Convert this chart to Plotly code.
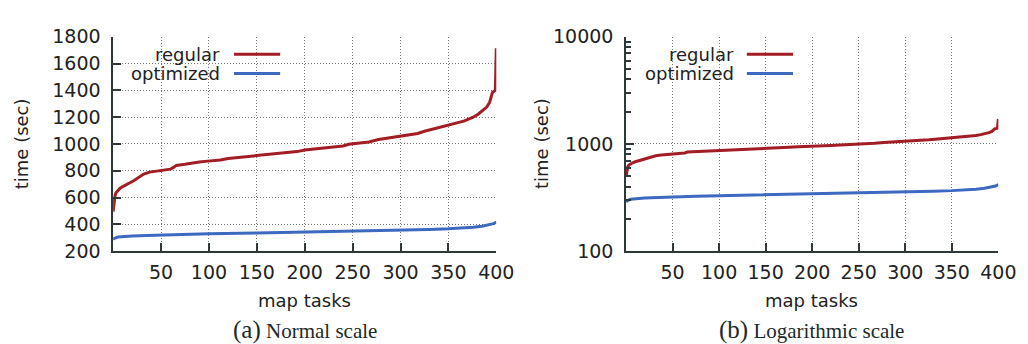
import plotly.graph_objects as go

# ---- data ----
regular_x = [0, 1, 2, 3, 5, 7, 10, 14, 18, 21, 25, 28, 32, 38, 44, 50, 55, 60, 63, 66,
             75, 82, 90, 96, 105, 112, 120, 132, 144, 155, 165, 175, 185, 192, 200,
             210, 220, 230, 240, 246, 255, 267, 277, 287, 297, 305, 312, 318, 325,
             332, 340, 349, 358, 366, 371, 376, 381, 386, 390, 393, 396, 399, 400]
regular_y = [495, 560, 615, 635, 655, 668, 682, 700, 712, 724, 745, 760, 775, 790, 797,
             800, 805, 812, 825, 840, 848, 858, 865, 870, 873, 880, 892, 900, 908, 915,
             922, 932, 940, 943, 955, 962, 970, 978, 985, 998, 1005, 1015, 1033, 1044,
             1050, 1060, 1068, 1078, 1095, 1108, 1122, 1139, 1155, 1170, 1185, 1200,
             1222, 1248, 1275, 1310, 1385, 1400, 1715]

optimized_x = [0, 2, 5, 10, 20, 35, 50, 75, 100, 150, 200, 250, 300, 330, 350, 365,
               376, 385, 392, 397, 400]
optimized_y = [288, 298, 305, 309, 313, 317, 321, 325, 329, 335, 341, 348, 356, 362,
               367, 372, 378, 386, 395, 405, 418]

x_ticks = [50, 100, 150, 200, 250, 300, 350, 400]
series_names = ["regular", "optimized"]
captions = [("(a)", "Normal scale"), ("(b)", "Logarithmic scale")]

RED = "#a21d24"
BLUE = "#3d69c1"
AX = "#2f3838"
TXT = "#222222"
GRID = "#777777"
FONT = "DejaVu Sans"
TICKSIZE = 19
LBLSIZE = 18
W, H = 1028, 344


def px(x):
    return x / W


def py(y):
    return 1 - y / H


fig = go.Figure()
for xa, ya in (("x", "y"), ("x2", "y2")):
    fig.add_trace(go.Scatter(x=regular_x, y=regular_y, mode="lines", name=series_names[0],
                             line=dict(color=RED, width=3), xaxis=xa, yaxis=ya,
                             showlegend=False))
    fig.add_trace(go.Scatter(x=optimized_x, y=optimized_y, mode="lines", name=series_names[1],
                             line=dict(color=BLUE, width=3), xaxis=xa, yaxis=ya,
                             showlegend=False))

common_x = dict(range=[0, 400], tickmode="array", tickvals=x_ticks, ticks="inside",
                ticklen=8, tickwidth=1.5, tickcolor=AX, showline=True, linecolor=AX,
                linewidth=1.5, showgrid=True, gridcolor=GRID, griddash="1px,2px", gridwidth=1,
                zeroline=False, tickfont=dict(family=FONT, size=TICKSIZE, color=TXT),
                ticklabelstandoff=3)
common_y = dict(ticks="inside", ticklen=8, tickwidth=1.5, tickcolor=AX, showline=True,
                linecolor=AX, linewidth=1.5, showgrid=True, gridcolor=GRID,
                griddash="1px,2px", gridwidth=1, zeroline=False,
                tickfont=dict(family=FONT, size=TICKSIZE, color=TXT), ticklabelstandoff=7)

ytop, ybot = 19, 248
fig.update_layout(
    width=W, height=H, margin=dict(l=0, r=0, t=0, b=0),
    paper_bgcolor="white", plot_bgcolor="white",
    xaxis=dict(domain=[px(107), px(497)], anchor="y", **common_x),
    xaxis2=dict(domain=[px(629), px(1008)], anchor="y2", **common_x),
    yaxis=dict(domain=[py(ybot), py(ytop)], anchor="x", range=[200, 1800], dtick=200,
               **common_y),
    yaxis2=dict(domain=[py(ybot), py(ytop)], anchor="x2", type="log", range=[2, 4],
                dtick=1, tickformat="d",
                minor=dict(ticks="inside", ticklen=5, tickcolor=AX, tickwidth=1.5,
                           dtick="D1", showgrid=False),
                **common_y),
)

shapes = []
annotations = []
# legend masks and samples
for (x0, x1, tx, lx0, lx1) in ((108, 287, 218, 230, 277), (630, 805, 741, 752, 799)):
    shapes.append(dict(type="rect", xref="paper", yref="paper", x0=px(x0), x1=px(x1),
                       y0=py(70), y1=py(21), fillcolor="white", line=dict(width=0),
                       layer="between"))
    for name, color, yy in ((series_names[0], RED, 37.7), (series_names[1], BLUE, 58.3)):
        shapes.append(dict(type="line", xref="paper", yref="paper", x0=px(lx0), x1=px(lx1),
                           y0=py(yy), y1=py(yy), line=dict(color=color, width=3)))
        annotations.append(dict(text=name, xref="paper", yref="paper", x=px(tx), y=py(yy),
                                xanchor="right", yanchor="middle", showarrow=False,
                                font=dict(family=FONT, size=LBLSIZE, color=TXT)))

# axis titles and captions
for cx, ylx, cap in ((302, 14, captions[0]), (818, 543, captions[1])):
    annotations.append(dict(text="map tasks", xref="paper", yref="paper", x=px(cx), y=py(301),
                            xanchor="center", yanchor="middle", showarrow=False,
                            font=dict(family=FONT, size=LBLSIZE, color=TXT)))
    annotations.append(dict(text="time (sec)", xref="paper", yref="paper", x=px(ylx),
                            y=py(133), xanchor="center", yanchor="middle", textangle=-90,
                            showarrow=False, font=dict(family=FONT, size=LBLSIZE, color=TXT)))
    annotations.append(dict(text='<span style="font-size:25px">%s</span> %s' % cap,
                            xref="paper", yref="paper", x=px(cx), y=py(332),
                            xanchor="center", yanchor="middle", showarrow=False,
                            font=dict(family="Liberation Serif", size=21, color="#1c2a2a")))

fig.update_layout(shapes=shapes, annotations=annotations)
fig.write_html("out.html")
